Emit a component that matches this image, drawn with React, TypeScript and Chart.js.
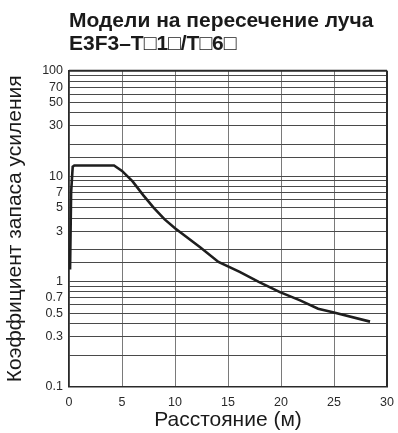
import React, { useEffect, useRef } from "react";
import { Chart, registerables } from "chart.js";

Chart.register(...registerables);

const titleLines = ["Модели на пересечение луча", "E3F3\u2013T\u25a11\u25a1/T\u25a16\u25a1"];
const xTitle = "Расстояние (м)";
const yTitle = "Коэффициент запаса усиления";

const distance = [0.1, 0.2, 0.35, 0.5, 4.25, 5, 6, 7, 8, 9, 10, 12.4, 14.1, 16.1, 17.9, 19.9, 21.8, 23.5, 24.9, 28.4];
const gain = [1.3, 7, 12.3, 12.6, 12.6, 11.2, 8.9, 6.6, 5.0, 3.9, 3.2, 2.1, 1.53, 1.23, 0.99, 0.79, 0.66, 0.55, 0.51, 0.415];

const yLabelValues = [0.1, 0.3, 0.5, 0.7, 1, 3, 5, 7, 10, 30, 50, 70, 100];
const xTickValues = [0, 5, 10, 15, 20, 25, 30];

const FONT = "'Liberation Sans', Arial, Helvetica, sans-serif";

export default function App() {
  const ref = useRef<HTMLCanvasElement | null>(null);

  useEffect(() => {
    if (!ref.current) return;
    const chart = new Chart(ref.current, {
      type: "line",
      data: {
        datasets: [
          {
            data: distance.map((d, i) => ({ x: d, y: gain[i] })),
            borderColor: "#1e1e1e",
            borderWidth: 2.6,
            pointRadius: 0,
            tension: 0,
            fill: false,
          },
        ],
      },
      options: {
        animation: false,
        responsive: true,
        maintainAspectRatio: false,
        layout: { padding: { left: 0, right: 11, top: 0, bottom: 0 } },
        plugins: {
          legend: { display: false },
          tooltip: { enabled: false },
          title: {
            display: true,
            text: titleLines,
            align: "start",
            fullSize: false,
            color: "#1a1a1a",
            font: { family: FONT, size: 21, weight: "bold", lineHeight: 1.08 },
            padding: { top: 10.25, bottom: 15.2 },
          },
        },
        scales: {
          x: {
            type: "linear",
            min: 0,
            max: 30,
            afterBuildTicks: (scale: any) => {
              scale.ticks = xTickValues.map((v) => ({ value: v }));
            },
            afterFit: (scale: any) => {
              scale.height = 46.3;
              scale.paddingRight = 0;
              scale.paddingLeft = 0;
            },
            grid: { color: "#7a7a7a", lineWidth: 1, drawTicks: false },
            border: { color: "#2a2a2a", width: 1.5 },
            ticks: {
              color: "#2a2a2a",
              padding: 8,
              maxRotation: 0,
              font: { family: FONT, size: 12.5 },
            },
            title: {
              display: true,
              text: xTitle,
              color: "#1a1a1a",
              font: { family: FONT, size: 21 },
              padding: { top: 0, bottom: 0 },
            },
          },
          y: {
            type: "logarithmic",
            min: 0.1,
            max: 100,
            afterFit: (scale: any) => {
              scale.width = 69;
            },
            grid: { color: "#4a4a4a", lineWidth: 1, drawTicks: false },
            border: { color: "#2a2a2a", width: 1.5 },
            ticks: {
              color: "#2a2a2a",
              padding: 6,
              autoSkip: false,
              font: { family: FONT, size: 12.5 },
              callback: (value: any) => {
                const v = Number(value);
                const hit = yLabelValues.find((t) => Math.abs(t - v) / t < 1e-6);
                return hit !== undefined ? String(hit) : "";
              },
            },
            title: {
              display: true,
              text: yTitle,
              color: "#1a1a1a",
              font: { family: FONT, size: 21 },
              padding: { top: 3, bottom: 0 },
            },
          },
        },
      },
      plugins: [
        {
          id: "rightBorder",
          afterDraw: (c: any) => {
            const { ctx, chartArea } = c;
            ctx.save();
            ctx.strokeStyle = "#2a2a2a";
            ctx.lineWidth = 2;
            ctx.beginPath();
            ctx.moveTo(chartArea.right, chartArea.top);
            ctx.lineTo(chartArea.right, chartArea.bottom);
            ctx.moveTo(chartArea.left, chartArea.top);
            ctx.lineTo(chartArea.right, chartArea.top);
            ctx.stroke();
            ctx.restore();
          },
        },
      ],
    });
    return () => chart.destroy();
  }, []);

  return (
    <div style={{ position: "fixed", left: 0, top: 0, width: 398, height: 433 }}>
      <canvas ref={ref} />
    </div>
  );
}
